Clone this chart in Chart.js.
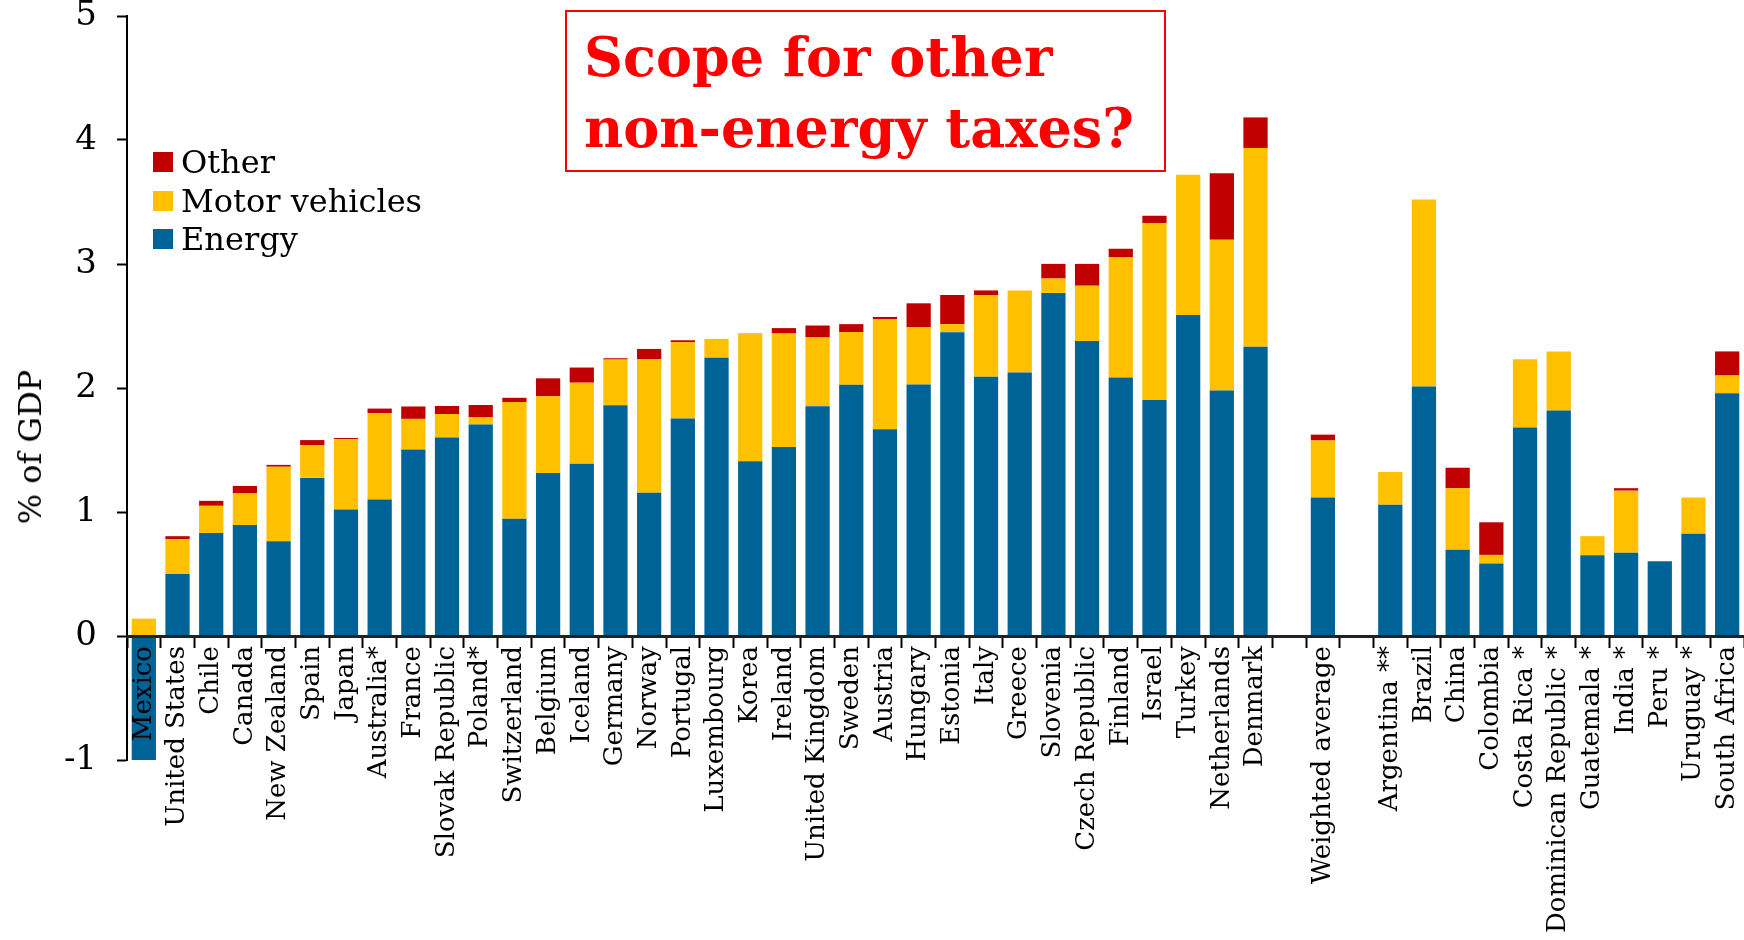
<!DOCTYPE html>
<html>
<head>
<meta charset="utf-8">
<script src="https://cdn.jsdelivr.net/npm/chart.js@4.4.1/dist/chart.umd.min.js"></script>
<style>
  html, body { margin: 0; padding: 0; background: #fff; }
  #wrap { position: relative; width: 1744px; height: 940px; overflow: hidden; }
  #chart { position: absolute; left: 0; top: 0; }
  .title-box {
    position: absolute; left: 565px; top: 10px; width: 597px; height: 158px;
    border: 2px solid #ff0000; box-sizing: content-box;
    font-family: "DejaVu Serif", serif; font-weight: bold; font-size: 54px;
    color: #ff0000; line-height: 71px; padding: 0;
  }
  .title-box div { position: absolute; left: 17px; white-space: nowrap; }
  .ytitle {
    position: absolute; left: 30px; top: 447px; white-space: nowrap;
    font-family: "DejaVu Serif", serif; font-size: 32px; color: #000;
    transform: translate(-50%, -50%) rotate(-90deg);
  }
  .legend { position: absolute; left: 153px; top: 143px; font-family: "DejaVu Serif", serif; font-size: 32px; color: #000; }
  .legend .row { height: 38.5px; display: flex; align-items: center; white-space: nowrap; }
  .legend .sw { width: 20px; height: 20px; margin-right: 8px; }
</style>
</head>
<body>
<div id="wrap">
  <canvas id="chart" width="1744" height="940"></canvas>
  <div class="title-box">
    <div style="top:10px">Scope for other</div>
    <div style="top:81px">non-energy taxes?</div>
  </div>
  <div class="ytitle">% of GDP</div>
  <div class="legend" id="legend"></div>
</div>
<script>
// categories, blanks are spacer slots
const categories = ['Mexico', 'United States', 'Chile', 'Canada', 'New Zealand', 'Spain', 'Japan', 'Australia*',
  'France', 'Slovak Republic', 'Poland*', 'Switzerland', 'Belgium', 'Iceland', 'Germany', 'Norway', 'Portugal',
  'Luxembourg', 'Korea', 'Ireland', 'United Kingdom', 'Sweden', 'Austria', 'Hungary', 'Estonia', 'Italy', 'Greece',
  'Slovenia', 'Czech Republic', 'Finland', 'Israel', 'Turkey', 'Netherlands', 'Denmark', '',
  'Weighted average', '', 'Argentina **', 'Brazil', 'China', 'Colombia', 'Costa Rica *', 'Dominican Republic *',
  'Guatemala *', 'India *', 'Peru *', 'Uruguay *', 'South Africa'];

const energy = [-1.02, 0.50, 0.83, 0.895, 0.765, 1.275, 1.02, 1.10,
  1.505, 1.60, 1.705, 0.945, 1.314, 1.39, 1.861, 1.155, 1.754,
  2.243, 1.41, 1.525, 1.852, 2.026, 1.667, 2.029, 2.449, 2.09, 2.124,
  2.767, 2.379, 2.084, 1.904, 2.588, 1.98, 2.333, null,
  1.117, null, 1.059, 2.012, 0.695, 0.585, 1.682, 1.818,
  0.651, 0.671, 0.602, 0.825, 1.957];

const motorVehicles = [0.14, 0.28, 0.22, 0.255, 0.60, 0.265, 0.567, 0.697,
  0.246, 0.19, 0.058, 0.942, 0.619, 0.653, 0.368, 1.079, 0.614,
  0.153, 1.024, 0.915, 0.556, 0.425, 0.886, 0.46, 0.066, 0.66, 0.663,
  0.116, 0.446, 0.972, 1.427, 1.131, 1.215, 1.603, null,
  0.46, null, 0.264, 1.508, 0.497, 0.069, 0.55, 0.477,
  0.154, 0.501, 0, 0.292, 0.144];

const other = [0, 0.025, 0.04, 0.06, 0.015, 0.04, 0.01, 0.037,
  0.10, 0.065, 0.10, 0.034, 0.145, 0.122, 0.011, 0.081, 0.017,
  0, 0.004, 0.043, 0.096, 0.064, 0.02, 0.194, 0.235, 0.037, 0,
  0.118, 0.176, 0.067, 0.058, 0, 0.536, 0.246, null,
  0.047, null, 0, 0, 0.165, 0.263, 0, 0,
  0, 0.02, 0, 0, 0.194];

const yTicks = [-1, 0, 1, 2, 3, 4, 5];

const serif = 'DejaVu Serif';

const chart = new Chart(document.getElementById('chart').getContext('2d'), {
  type: 'bar',
  data: {
    labels: categories,
    datasets: [
      { label: 'Energy', data: energy, backgroundColor: '#006398' },
      { label: 'Motor vehicles', data: motorVehicles, backgroundColor: '#ffc000' },
      { label: 'Other', data: other, backgroundColor: '#c00000' }
    ]
  },
  options: {
    responsive: false,
    devicePixelRatio: 1,
    animation: false,
    layout: { padding: { top: 0, right: 0, bottom: 180, left: 0 } },
    datasets: { bar: { barPercentage: 0.72, categoryPercentage: 1, borderWidth: 0 } },
    plugins: { legend: { display: false }, tooltip: { enabled: false } },
    scales: {
      x: {
        stacked: true,
        position: { y: 0 },
        offset: true,
        afterFit: function (scale) { scale.paddingLeft = 0; scale.paddingRight = 0; },
        grid: { drawOnChartArea: false, drawTicks: true, tickLength: 10, color: '#000', tickWidth: 2, offset: true, z: 1 },
        border: { display: true, color: '#222', width: 3, z: 1 },
        ticks: {
          z: 1,
          autoSkip: false, minRotation: 90, maxRotation: 90, padding: 0,
          color: '#000', font: { family: serif, size: 26 }
        }
      },
      y: {
        stacked: true,
        min: -1, max: 5,
        afterFit: function (scale) { scale.width = 127; scale.paddingTop = 16; scale.paddingBottom = 0; },
        afterBuildTicks: function (scale) { scale.ticks = yTicks.map(v => ({ value: v })); },
        grid: { drawOnChartArea: false, drawTicks: true, tickLength: 10, color: '#000', tickWidth: 2 },
        border: { display: true, color: '#000', width: 2 },
        ticks: { padding: 20, color: '#000', font: { family: serif, size: 34 } }
      }
    }
  }
});

// legend, top entry = top of stack
const legend = document.getElementById('legend');
chart.data.datasets.slice().reverse().forEach(function (ds) {
  const row = document.createElement('div');
  row.className = 'row';
  const sw = document.createElement('span');
  sw.className = 'sw';
  sw.style.background = ds.backgroundColor;
  row.appendChild(sw);
  row.appendChild(document.createTextNode(ds.label));
  legend.appendChild(row);
});
</script>
</body>
</html>
